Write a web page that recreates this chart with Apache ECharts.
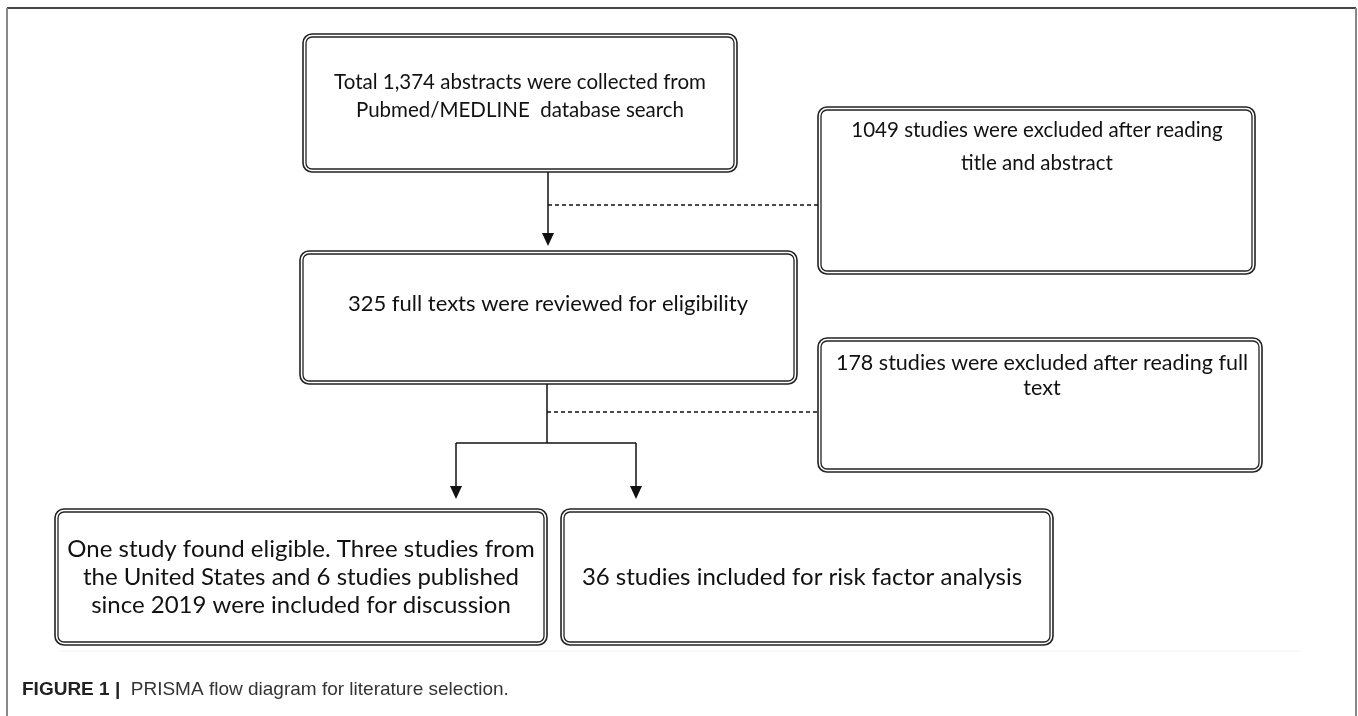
<!DOCTYPE html>
<html>
<head>
<meta charset="utf-8">
<script src="https://cdn.jsdelivr.net/npm/echarts@6/dist/echarts.min.js"></script>
<style>
  html, body { margin:0; padding:0; background:#fff; }
  #chart { width:1358px; height:716px; }
</style>
</head>
<body>
<div id="chart"></div>
<script>
  // text of each box in the flow (one array entry per line)
  var collected = ['Total 1,374 abstracts were collected from', 'Pubmed/MEDLINE  database search'];
  var excludedFirst = ['1049 studies were excluded after reading', 'title and abstract'];
  var reviewed = ['325 full texts were reviewed for eligibility'];
  var excludedSecond = ['178 studies were excluded after reading full', 'text'];
  var discussion = ['One study found eligible. Three studies from', 'the United States and 6 studies published', 'since 2019 were included for discussion'];
  var included = ['36 studies included for risk factor analysis'];
  var caption = ['FIGURE 1 |', 'PRISMA flow diagram for literature selection.'];

  // box layout: x, y, w, h, first text line y, text centre, font size, line step
  var layout = [
    { lines: collected,      x: 303, y: 34,  w: 434, h: 138, ty: 82,  cx: 520,  fs: 20.5, lh: 28 },
    { lines: excludedFirst,  x: 818, y: 107, w: 437, h: 167, ty: 130, cx: 1037, fs: 20.5, lh: 33 },
    { lines: reviewed,       x: 300, y: 251, w: 497, h: 133, ty: 304, cx: 548,  fs: 22,   lh: 28 },
    { lines: excludedSecond, x: 818, y: 338, w: 444, h: 134, ty: 363, cx: 1042, fs: 21.5, lh: 25 },
    { lines: discussion,     x: 55,  y: 509, w: 492, h: 136, ty: 549, cx: 301,  fs: 24,   lh: 28 },
    { lines: included,       x: 561, y: 509, w: 492, h: 136, ty: 577, cx: 802,  fs: 24,   lh: 28 }
  ];

  var els = [];
  var lineStyle = { stroke:'#111', lineWidth:1.5 };

  // figure frame
  els.push({ type:'line', shape:{x1:7, y1:8, x2:1356, y2:8}, style:{stroke:'#444', lineWidth:2} });
  els.push({ type:'line', shape:{x1:7, y1:8, x2:7, y2:716}, style:{stroke:'#888', lineWidth:2} });
  els.push({ type:'line', shape:{x1:1356, y1:8, x2:1356, y2:716}, style:{stroke:'#888', lineWidth:2} });
  els.push({ type:'line', shape:{x1:60, y1:651, x2:1300, y2:651}, style:{stroke:'#f2f2f2', lineWidth:1} });

  layout.forEach(function (b) {
    els.push({ type:'rect', shape:{x:b.x, y:b.y, width:b.w, height:b.h, r:9},
      style:{ fill:'#fff', stroke:'#222', lineWidth:1.6 } });
    els.push({ type:'rect', shape:{x:b.x+3, y:b.y+3, width:b.w-6, height:b.h-6, r:6},
      style:{ fill:'none', stroke:'#222', lineWidth:1.3 } });
    b.lines.forEach(function (t, i) {
      els.push({ type:'text', style:{ text:t, x:b.cx, y:b.ty + i*b.lh, textAlign:'center', textVerticalAlign:'middle',
        font: b.fs + 'px Lato, "Open Sans", sans-serif', fill:'#111' } });
    });
  });

  function arrowHead(x, tip) {
    return { type:'polygon', shape:{ points:[[x-6, tip-13], [x+6, tip-13], [x, tip]] }, style:{ fill:'#111' } };
  }

  // connectors
  els.push({ type:'line', shape:{x1:548, y1:172, x2:548, y2:235}, style:lineStyle });
  els.push(arrowHead(548, 246));
  els.push({ type:'line', shape:{x1:548, y1:205, x2:818, y2:205}, style:{stroke:'#111', lineWidth:1.5, lineDash:[4,3]} });
  els.push({ type:'line', shape:{x1:547, y1:384, x2:547, y2:443}, style:lineStyle });
  els.push({ type:'line', shape:{x1:547, y1:412, x2:818, y2:412}, style:{stroke:'#111', lineWidth:1.5, lineDash:[4,3]} });
  els.push({ type:'line', shape:{x1:456, y1:443, x2:636, y2:443}, style:lineStyle });
  els.push({ type:'line', shape:{x1:456, y1:443, x2:456, y2:488}, style:lineStyle });
  els.push({ type:'line', shape:{x1:636, y1:443, x2:636, y2:488}, style:lineStyle });
  els.push(arrowHead(456, 499));
  els.push(arrowHead(636, 499));

  // caption
  els.push({ type:'text', style:{
    text:'{b|' + caption[0] + '}{n|  ' + caption[1] + '}', x:22, y:690, textVerticalAlign:'middle',
    rich:{
      b:{ font:'bold 19px "Liberation Sans", Arial, sans-serif', fill:'#222' },
      n:{ font:'19px "Liberation Sans", Arial, sans-serif', fill:'#333' }
    } } });

  var myChart = echarts.init(document.getElementById('chart'));
  myChart.setOption({
    backgroundColor:'#fff',
    animation:false,
    graphic:{ elements: els }
  });
</script>
</body>
</html>
